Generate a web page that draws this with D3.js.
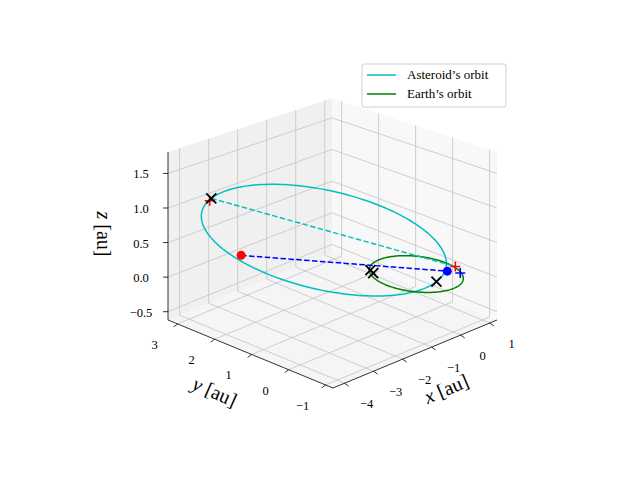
<!DOCTYPE html>
<html><head><meta charset="utf-8">
<script src="https://cdn.jsdelivr.net/npm/d3@7"></script>
<style>body{margin:0;background:#fff}svg{display:block}text{font-family:"Liberation Serif","DejaVu Serif",serif}</style>
</head><body><svg id="c" width="640" height="480"></svg>
<script>
// axis limits and ticks
const xLim = [-4.4, 1.25], yLim = [-1.2, 3.26], zLim = [-0.62, 1.81];
const xTicks = [-4, -3, -2, -1, 0, 1];
const yTicks = [-1, 0, 1, 2, 3];
const zTicks = [-0.5, 0, 0.5, 1.0, 1.5];
const zTickLabels = ["\u22120.5", "0.0", "0.5", "1.0", "1.5"];
// asteroid orbit: centre, semi-major vector, semi-minor vector (au)
const astCenter = [-1.44, 1.37, 0.45];
const astMajor = [-1.75, 1.67, 0.55];
const astMinor = [0.9, -0.6, 0.52];
// earth orbit: radius 1 in ecliptic
const earthRadius = 1.0;
// markers
const redDot = [-2.85, 2.50, 0.22];
const blueDot = [0.66, -0.32, 0];
const redPlus = [[-3.27, 3.02, 0.98], [1.0, -0.27, 0]];
const bluePlus = [[0.80, -0.56, 0]];
const blackX = [[-3.19, 3.04, 1.0], [0.313, -0.298, -0.098], [-0.62, 0.755, 0], [-0.70, 0.616, 0]];
const cyanDash = [[-3.19, 3.04, 1.0], [1.0, -0.27, 0]];
const blueDash = [redDot, blueDot];

const sx = d3.scaleLinear().domain(xLim).range([0, 1]);
const sy = d3.scaleLinear().domain(yLim).range([0, 1]);
const sz = d3.scaleLinear().domain(zLim).range([0, 1]);
const O = [333, 388];
const EX = [164, -68], EY = [-165, -68], EZ = 168;
function P(p) {
  const u = sx(p[0]), v = sy(p[1]), w = sz(p[2]);
  const depth = u + v;
  const f = 1 - 0.085 * (depth - 1);
  return [O[0] + u * EX[0] + v * EY[0], O[1] + u * EX[1] + v * EY[1] - w * EZ * f];
}
const svg = d3.select("#c");
const line = d3.line().x(d => P(d)[0]).y(d => P(d)[1]);
const [x0, x1] = xLim, [y0, y1] = yLim, [z0, z1] = zLim;
// panes
const pane = (pts, col) => svg.append("path").attr("d", line(pts) + "Z").attr("fill", col).attr("stroke", "none");
pane([[x0, y0, z0], [x1, y0, z0], [x1, y1, z0], [x0, y1, z0]], "#f5f5f5");
pane([[x0, y1, z0], [x1, y1, z0], [x1, y1, z1], [x0, y1, z1]], "#f0f0f0");
pane([[x1, y0, z0], [x1, y1, z0], [x1, y1, z1], [x1, y0, z1]], "#f8f8f8");
const grid = (a, b) => svg.append("path").attr("d", line([a, b])).attr("stroke", "#c4c4c4").attr("stroke-width", 0.8).attr("fill", "none");
xTicks.forEach(t => { grid([t, y0, z0], [t, y1, z0]); grid([t, y1, z0], [t, y1, z1]); });
yTicks.forEach(t => { grid([x0, t, z0], [x1, t, z0]); grid([x1, t, z0], [x1, t, z1]); });
zTicks.forEach(t => { grid([x0, y1, t], [x1, y1, t]); grid([x1, y1, t], [x1, y0, t]); });
// axis lines
const ax = (a, b) => svg.append("path").attr("d", line([a, b])).attr("stroke", "#000").attr("stroke-width", 0.8).attr("fill", "none");
ax([x0, y0, z0], [x1, y0, z0]);
ax([x0, y0, z0], [x0, y1, z0]);
ax([x0, y1, z0], [x0, y1, z1]);
const tick = (a, dx, dy) => { const q = P(a); svg.append("line").attr("x1", q[0]).attr("y1", q[1]).attr("x2", q[0] + dx).attr("y2", q[1] + dy).attr("stroke", "#000").attr("stroke-width", 0.8); };
const lab = (a, dx, dy, s) => { const q = P(a); svg.append("text").attr("x", q[0] + dx).attr("y", q[1] + dy).attr("text-anchor", "middle").attr("font-size", 12.5).text(s); };
const fmt = t => (t < 0 ? "\u2212" : "") + Math.abs(t);
xTicks.forEach(t => { tick([t, y0, z0], 4, 3); lab([t, y0, z0], 22, 25, fmt(t)); });
yTicks.forEach(t => { tick([x0, t, z0], -4, 3); lab([x0, t, z0], -23, 25, fmt(t)); });
zTicks.forEach((t, i) => { tick([x0, y1, t], -5, 0); lab([x0, y1, t], -27, 5, zTickLabels[i]); });
// axis labels
svg.append("text").attr("transform", "translate(449,395) rotate(-23)").attr("text-anchor", "middle").attr("font-size", 20).html('<tspan font-style="italic">x</tspan> [au]');
svg.append("text").attr("transform", "translate(212,398) rotate(24)").attr("text-anchor", "middle").attr("font-size", 20).html('<tspan font-style="italic">y</tspan> [au]');
svg.append("text").attr("transform", "translate(97,234) rotate(90)").attr("text-anchor", "middle").attr("font-size", 20).html('<tspan font-style="italic">z</tspan> [au]');
// orbits
const E = d3.range(0, 361, 2).map(d => d * Math.PI / 180);
const ast = E.map(e => [0, 1, 2].map(k => astCenter[k] + astMajor[k] * Math.cos(e) + astMinor[k] * Math.sin(e)));
const earth = E.map(e => [earthRadius * Math.cos(e), earthRadius * Math.sin(e), 0]);
svg.append("path").attr("d", line(ast)).attr("fill", "none").attr("stroke", "#00bfbf").attr("stroke-width", 1.5);
svg.append("path").attr("d", line(earth)).attr("fill", "none").attr("stroke", "#008000").attr("stroke-width", 1.5);
svg.append("path").attr("d", line(cyanDash)).attr("fill", "none").attr("stroke", "#00bfbf").attr("stroke-width", 1.5).attr("stroke-dasharray", "5.5,2.4");
svg.append("path").attr("d", line(blueDash)).attr("fill", "none").attr("stroke", "#0000ff").attr("stroke-width", 1.5).attr("stroke-dasharray", "5.5,2.4");
// markers
const dot = (p, c) => { const q = P(p); svg.append("circle").attr("cx", q[0]).attr("cy", q[1]).attr("r", 4.5).attr("fill", c); };
const plus = (p, c) => { const q = P(p); svg.append("path").attr("d", `M${q[0]-5},${q[1]}H${q[0]+5}M${q[0]},${q[1]-5}V${q[1]+5}`).attr("stroke", c).attr("stroke-width", 1.6); };
const cross = p => { const q = P(p); svg.append("path").attr("d", `M${q[0]-5},${q[1]-5}L${q[0]+5},${q[1]+5}M${q[0]-5},${q[1]+5}L${q[0]+5},${q[1]-5}`).attr("stroke", "#000").attr("stroke-width", 1.8); };
dot(redDot, "#ff0000"); dot(blueDot, "#0000ff");
redPlus.forEach(p => plus(p, "#ff0000"));
bluePlus.forEach(p => plus(p, "#0000ff"));
blackX.forEach(cross);
// legend
const lg = svg.append("g").attr("transform", "translate(362,64)");
lg.append("rect").attr("width", 144).attr("height", 43).attr("rx", 2).attr("fill", "#fff").attr("stroke", "#d0d0d0");
[["Asteroid\u2019s orbit", "#00bfbf"], ["Earth\u2019s orbit", "#008000"]].forEach((d, i) => {
  lg.append("line").attr("x1", 5).attr("x2", 34).attr("y1", 11 + i * 19).attr("y2", 11 + i * 19).attr("stroke", d[1]).attr("stroke-width", 1.5);
  lg.append("text").attr("x", 45).attr("y", 15 + i * 19).attr("font-size", 13).text(d[0]);
});
</script></body></html>
